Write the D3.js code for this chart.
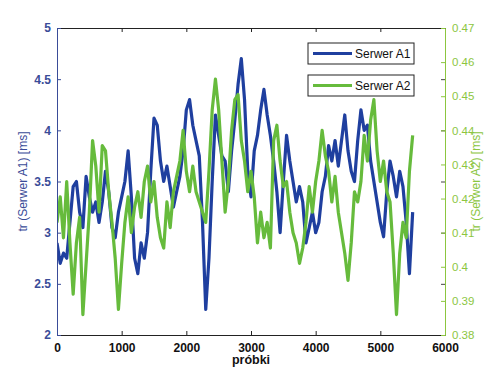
<!DOCTYPE html>
<html><head><meta charset="utf-8">
<script src="https://cdn.jsdelivr.net/npm/d3@7"></script>
<style>body{margin:0;background:#fff}svg{display:block}</style>
</head><body>
<svg id="c" width="494" height="377"></svg>
<script>
// x grid: sample index every 50 samples
const samples = d3.range(0, 5501, 50);
// Serwer A1 (left axis, ms)
const serwerA1 = [
 2.9,2.7,2.8,2.75,3.1,3.45,3.5,3.2,3.05,3.55,
 3.35,3.2,3.3,3.1,3.3,3.6,3.4,3.05,2.95,3.2,
 3.35,3.5,3.8,3.35,2.75,2.6,2.9,2.75,3.0,3.6,
 4.12,4.05,3.7,3.5,3.65,3.45,3.25,3.4,3.55,3.8,
 4.2,4.3,4.05,3.9,3.75,3.1,2.25,2.75,3.5,4.15,
 3.95,3.75,3.7,3.4,3.8,4.1,4.45,4.7,4.3,3.6,
 3.35,3.8,3.95,4.2,4.4,4.15,3.95,3.7,3.4,3.0,
 3.5,3.95,3.7,3.5,3.3,3.45,3.3,2.9,3.05,3.2,
 3.0,3.1,3.4,3.55,3.85,3.7,3.9,3.65,3.9,4.15,
 3.8,3.6,3.5,3.9,4.2,4.0,4.05,3.7,3.5,3.3,
 3.1,2.96,3.4,3.7,3.55,3.35,3.6,3.45,3.1,2.6,
 3.2];
// Serwer A2 (right axis, ms)
const serwerA2 = [
 .413,.4205,.4085,.425,.407,.392,.407,.4145,.386,.401,
 .416,.437,.4295,.416,.4355,.434,.422,.413,.4025,.3875,
 .401,.413,.4205,.41,.4175,.422,.4145,.425,.4295,.419,
 .425,.4145,.4085,.4055,.419,.4115,.422,.4265,.431,.44,
 .428,.422,.4295,.422,.419,.416,.413,.428,.446,.455,
 .446,.431,.416,.425,.44,.449,.4505,.437,.431,.422,
 .428,.4205,.407,.416,.4085,.413,.4055,.437,.4415,.431,
 .4235,.425,.416,.41,.407,.401,.4055,.413,.4235,.416,
 .425,.431,.44,.4325,.428,.419,.4265,.416,.41,.404,
 .396,.407,.422,.419,.425,.4385,.431,.443,.449,.434,
 .425,.431,.422,.419,.404,.386,.404,.413,.4085,.428,
 .4385];
const xTicks = [0,1000,2000,3000,4000,5000,6000];
const yLeftTicks = [2,2.5,3,3.5,4,4.5,5];
const yRightTicks = [0.38,0.39,0.40,0.41,0.42,0.43,0.44,0.45,0.46,0.47];
const seriesNames = ["Serwer A1","Serwer A2"];

const blue = "#1f3f9f", green = "#66bb3c";
const blueTxt = "#3a4c98", greenTxt = "#8cc63f";
const L = 57, R = 445, T = 28, B = 335;
const LW = 3.2;
const svg = d3.select("#c");
const x = d3.scaleLinear().domain([0,6000]).range([L,R]);
const yL = d3.scaleLinear().domain([2,5]).range([B,T]);
const yR = d3.scaleLinear().domain([0.38,0.47]).range([B,T]);

svg.append("clipPath").attr("id","cp").append("rect")
  .attr("x",L).attr("y",T).attr("width",R-L).attr("height",B-T);

const g = svg.append("g").attr("clip-path","url(#cp)");
g.append("path").datum(serwerA1.map((v,i)=>[samples[i],v]))
  .attr("fill","none").attr("stroke",blue).attr("stroke-width",LW)
  .attr("stroke-linejoin","round")
  .attr("d", d3.line().x(d=>x(d[0])).y(d=>yL(d[1])));
g.append("path").datum(serwerA2.map((v,i)=>[samples[i],v]))
  .attr("fill","none").attr("stroke",green).attr("stroke-width",LW)
  .attr("stroke-linejoin","round")
  .attr("d", d3.line().x(d=>x(d[0])).y(d=>yR(d[1])));

// axes
const font = "Liberation Sans, Arial, sans-serif";
const xb = svg.append("g").attr("transform",`translate(0,${B})`)
  .call(d3.axisBottom(x).tickValues(xTicks).tickSize(-4).tickPadding(8).tickFormat(d3.format("d")));
xb.select(".domain").attr("stroke","#222");
xb.selectAll("line").attr("stroke","#222");
xb.selectAll("text").attr("font-family",font).attr("font-size",12).attr("font-weight","bold").attr("fill","#111");
const xt = svg.append("g").attr("transform",`translate(0,${T})`)
  .call(d3.axisTop(x).tickValues(xTicks).tickSize(-4).tickFormat(""));
xt.select(".domain").attr("stroke","#222");
xt.selectAll("line").attr("stroke","#222");

const yl = svg.append("g").attr("transform",`translate(${L},0)`)
  .call(d3.axisLeft(yL).tickValues(yLeftTicks).tickSize(-4).tickPadding(6).tickFormat(d3.format("~g")));
yl.select(".domain").attr("stroke",blueTxt);
yl.selectAll("line").attr("stroke",blueTxt);
yl.selectAll("text").attr("font-family",font).attr("font-size",12).attr("font-weight","bold").attr("fill",blueTxt);

// left-axis ticks mirrored on right side
const ylr = svg.append("g").attr("transform",`translate(${R},0)`)
  .call(d3.axisRight(yL).tickValues(yLeftTicks).tickSize(-4).tickFormat(""));
ylr.select(".domain").remove();
ylr.selectAll("line").attr("stroke","#444");

const yr = svg.append("g").attr("transform",`translate(${R},0)`)
  .call(d3.axisRight(yR).tickValues(yRightTicks).tickSize(-4).tickPadding(7).tickFormat(d3.format(".2~f")));
yr.select(".domain").attr("stroke",greenTxt);
yr.selectAll("line").attr("stroke",greenTxt);
yr.selectAll("text").attr("font-family",font).attr("font-size",11.5).attr("fill",greenTxt);

// labels
svg.append("text").attr("x",(L+R)/2).attr("y",364).attr("text-anchor","middle")
  .attr("font-family",font).attr("font-size",12.5).attr("font-weight","bold").attr("fill","#111").text("próbki");
svg.append("text").attr("transform",`translate(27,${(T+B)/2}) rotate(-90)`).attr("text-anchor","middle")
  .attr("font-family",font).attr("font-size",12).attr("fill",blueTxt).text("tr (Serwer A1) [ms]");
svg.append("text").attr("transform",`translate(480,${(T+B)/2}) rotate(-90)`).attr("text-anchor","middle")
  .attr("font-family",font).attr("font-size",12).attr("fill",greenTxt).text("tr (Serwer A2) [ms]");

// legends (two separate boxes)
const legY = [43,75], cols = [blue, green];
seriesNames.forEach((name,i)=>{
  const lg = svg.append("g");
  lg.append("rect").attr("x",308).attr("y",legY[i]).attr("width",106).attr("height",21)
    .attr("fill","#fff").attr("stroke","#222").attr("stroke-width",1);
  lg.append("line").attr("x1",313).attr("x2",352).attr("y1",legY[i]+10.5).attr("y2",legY[i]+10.5)
    .attr("stroke",cols[i]).attr("stroke-width",LW);
  lg.append("text").attr("x",355).attr("y",legY[i]+15).attr("font-family",font).attr("font-size",12)
    .attr("fill","#111").text(name);
});
</script>
</body></html>
